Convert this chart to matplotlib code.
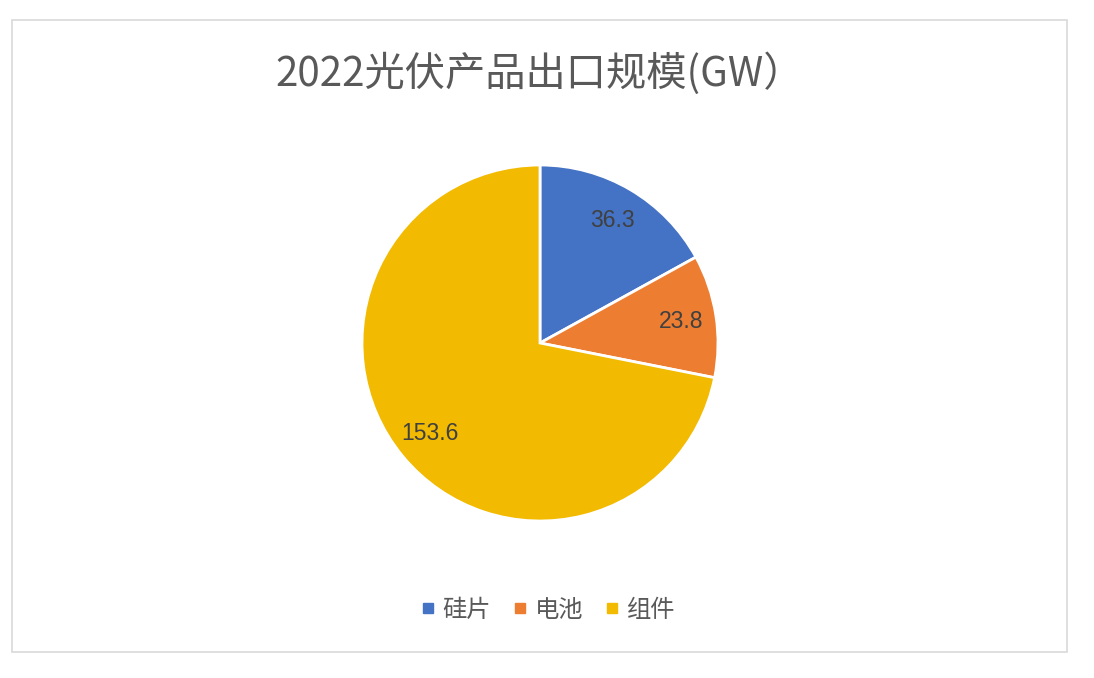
import matplotlib
matplotlib.use("Agg")
import matplotlib.pyplot as plt
from matplotlib.patches import Rectangle
from matplotlib.lines import Line2D

plt.rcParams["font.family"] = ["Noto Sans CJK SC", "DejaVu Sans"]

# data
categories = ["硅片", "电池", "组件"]
values = [36.3, 23.8, 153.6]
colors = ["#4472C4", "#ED7D31", "#F2BA00"]
title = "2022光伏产品出口规模(GW）"

W, H = 1094, 678
fig = plt.figure(figsize=(W / 100, H / 100), dpi=100)
fig.patch.set_facecolor("white")

# outer chart border
fig.add_artist(Rectangle((12 / W, 1 - 652 / H), (1067 - 12) / W, (652 - 20) / H,
                         transform=fig.transFigure, facecolor="white",
                         edgecolor="#D9D9D9", linewidth=1.2, zorder=0))

# pie axes: centre (540, 343), radius 178 px
cx, cy, r = 540, 343, 178
ax = fig.add_axes([(cx - r) / W, (H - cy - r) / H, 2 * r / W, 2 * r / H])
wedges, _, autotexts = ax.pie(
    values, colors=colors, startangle=90, counterclock=False,
    autopct=lambda p: f"{p * sum(values) / 100:.1f}", pctdistance=0.8,
    wedgeprops=dict(edgecolor="white", linewidth=2),
)
for t in autotexts:
    t.set_fontfamily(["Liberation Sans", "DejaVu Sans"])
    t.set_fontsize(16.5)
    t.set_color("#404040")
ax.set_aspect("equal")
ax.set_xlim(-1.0, 1.0)
ax.set_ylim(-1.0, 1.0)

fig.text(540 / W, 1 - 74 / H, title, ha="center", va="center",
         fontsize=29, color="#595959")

handles = [Line2D([0], [0], marker="s", linestyle="none", markersize=7,
                  markerfacecolor=c, markeredgecolor=c, label=n)
           for n, c in zip(categories, colors)]
fig.legend(handles=handles, loc="center", bbox_to_anchor=(548 / W, 1 - 610 / H),
           ncol=3, frameon=False, fontsize=17.5, handlelength=0.6,
           handletextpad=0.3, columnspacing=0.9, labelcolor="#595959")

fig.savefig("out.png", dpi=100, facecolor="white")
